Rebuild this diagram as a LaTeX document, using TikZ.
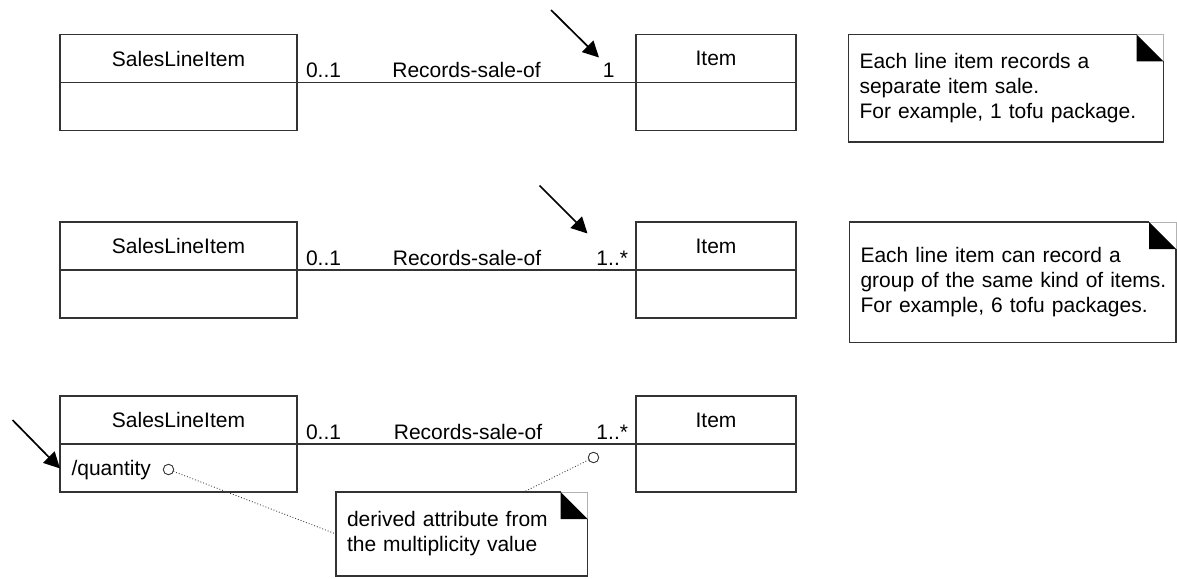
\documentclass[tikz,border=0pt]{standalone}
\usepackage{fontspec}
\setmainfont{Liberation Sans}
\usetikzlibrary{arrows.meta}
\begin{document}
\begin{tikzpicture}[x=1pt,y=-1pt,
  every node/.style={font=\fontsize{21}{25}\selectfont, inner sep=0pt, outer sep=0pt},
  comp/.style={draw=black!80, line width=1.2pt, minimum height=48pt},
  slibox/.style={comp, minimum width=237pt},
  itembox/.style={comp, minimum width=160pt},
  assoc/.style={draw=black!80, line width=1.1pt},
  lbl/.style={anchor=base},
  notebox/.style={align=left, inner xsep=11pt},
  noteline/.style={draw=black!80, line width=1.2pt},
  foldline/.style={draw=black!30, line width=0.8pt},
  bigarrow/.style={-{Triangle[length=16pt,width=16pt]}, line width=1.7pt},
  pin/.style={circle, draw=black!80, line width=0.9pt, minimum size=10.5pt},
  dotlink/.style={dotted, line width=0.9pt, black!75}
]
\useasboundingbox (0,0) rectangle (1177,578);

% ---------- Row 1 ----------
\node[slibox] (s1t) at (178.5,58.5) {SalesLineItem};
\node[slibox, anchor=north] (s1b) at (s1t.south) {};
\node[itembox] (i1t) at (716,58.5) {Item};
\node[itembox, anchor=north] (i1b) at (i1t.south) {};
\draw[assoc] (s1t.south east) -- (i1t.south west);
\node[lbl, anchor=base west] (m1a) at (306,77.5) {0..1};
\node[lbl] (r1) at (466.5,77.5) {Records-sale-of};
\node[lbl, anchor=base east] (m1b) at (614.5,77.5) {1};
\coordinate (a1s) at (551,10);
\coordinate (a1e) at (599,57.5);
\draw[bigarrow] (a1s) -- (a1e);

\node[notebox, text width=293pt, minimum height=107.5pt] (note1) at (1006,88.25)
  {\mbox{Each line item records a}\\\mbox{separate item sale.}\\\mbox{For example, 1 tofu package.}};

% ---------- Row 2 ----------
\node[slibox] (s2t) at (178.5,246) {SalesLineItem};
\node[slibox, anchor=north] (s2b) at (s2t.south) {};
\node[itembox] (i2t) at (716,246) {Item};
\node[itembox, anchor=north] (i2b) at (i2t.south) {};
\draw[assoc] (s2t.south east) -- (i2t.south west);
\node[lbl, anchor=base west] (m2a) at (306,265.5) {0..1};
\node[lbl] (r2) at (467,265.5) {Records-sale-of};
\node[lbl, anchor=base east] (m2b) at (628,265.5) {1..*};
\coordinate (a2s) at (539.5,185.5);
\coordinate (a2e) at (587.5,233.5);
\draw[bigarrow] (a2s) -- (a2e);

\node[notebox, text width=304.5pt, minimum height=120.5pt] (note2) at (1012.75,282.25)
  {\mbox{Each line item can record a}\\\mbox{group of the same kind of items.}\\\mbox{For example, 6 tofu packages.}};

% ---------- Row 3 ----------
\node[slibox] (s3t) at (178.5,420) {SalesLineItem};
\node[slibox, anchor=north] (s3b) at (s3t.south) {};
\node[itembox] (i3t) at (716,420) {Item};
\node[itembox, anchor=north] (i3b) at (i3t.south) {};
\draw[assoc] (s3t.south east) -- (i3t.south west);
\node[lbl, anchor=base west] (m3a) at (306,439.5) {0..1};
\node[lbl] (r3) at (468,439.5) {Records-sale-of};
\node[lbl, anchor=base east] (m3b) at (628,439.5) {1..*};
\coordinate (a3s) at (12.5,420);
\coordinate (a3e) at (60,468.5);
\draw[bigarrow] (a3s) -- (a3e);

\node[anchor=base west] (qty) at (71.5,475.5) {/quantity};
\node[pin] (p1) at (168.5,469.5) {};
\node[pin] (p2) at (593.5,457.5) {};

\node[notebox, text width=229.5pt, minimum height=84pt] (note3) at (461.75,534)
  {\mbox{derived attribute from}\\\mbox{the multiplicity value}};

\draw[dotlink] (p1) -- (note3.west);
\draw[dotlink] (p2) -- ([xshift=62pt]note3.north);

% ---------- note outlines with folded corners ----------
\foreach \n in {note1,note2,note3}{
  \draw[noteline] ([xshift=-27pt]\n.north east) -- (\n.north west) -- (\n.south west)
      -- (\n.south east) -- ([yshift=-27pt]\n.north east);
  \draw[foldline] ([xshift=-27pt]\n.north east) -- (\n.north east) -- ([yshift=-27pt]\n.north east);
  \fill[black] ([xshift=-27pt]\n.north east) -- ([xshift=-27pt,yshift=-27pt]\n.north east)
      -- ([yshift=-27pt]\n.north east) -- cycle;
}
\end{tikzpicture}
\end{document}
